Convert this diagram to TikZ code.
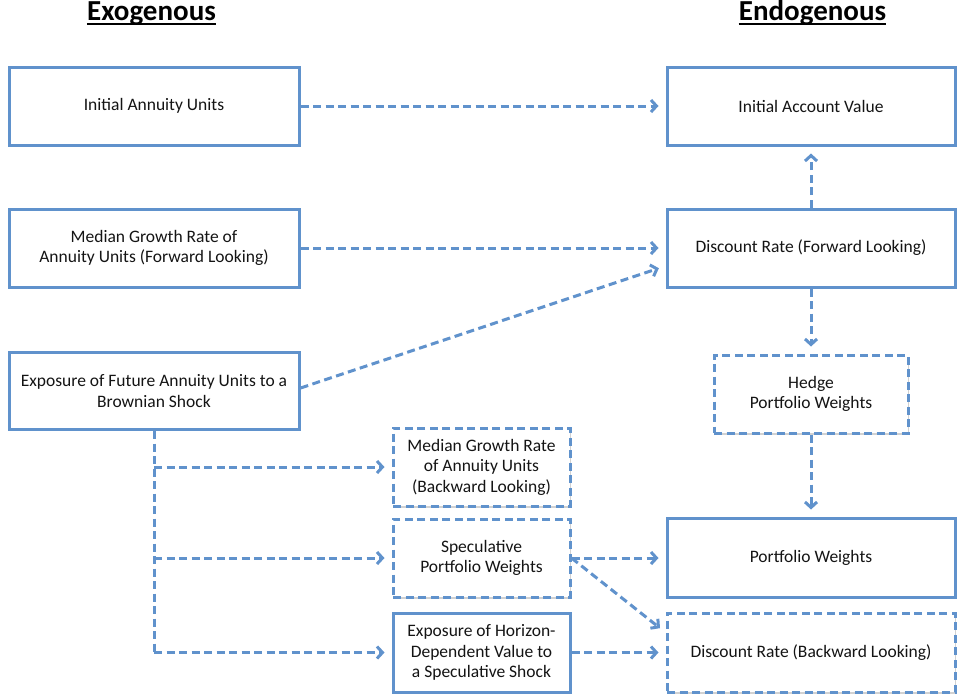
\documentclass[tikz,border=0pt]{standalone}
\usepackage{fontspec}
\setmainfont{Carlito}
\usetikzlibrary{arrows.meta,shadows,calc}
\definecolor{lineblue}{RGB}{96,146,204}
\definecolor{txt}{RGB}{20,20,20}
\tikzset{
  box/.style={draw=lineblue, line width=3pt, fill=white, rectangle, align=center,
    font=\fontsize{17.5}{20.5}\selectfont, text=txt, inner sep=0pt,
    general shadow={fill=black, opacity=0.18, shadow xshift=1.2pt, shadow yshift=-1.8pt}},
  dbox/.style={box, dash pattern=on 8pt off 4.5pt},
  conn/.style={draw=lineblue, line width=3pt, dash pattern=on 8pt off 4.5pt,
    -{Straight Barb[length=5.5pt,width=12pt]}, shorten >=7pt},
  plain/.style={draw=lineblue, line width=3pt, dash pattern=on 8pt off 4.5pt},
  heading/.style={font=\fontsize{29}{32}\selectfont\bfseries, text=black, inner sep=0pt, anchor=base},
  uline/.style={draw=black, line width=2pt}
}
\begin{document}
\begin{tikzpicture}[x=1pt,y=-1pt]
\useasboundingbox (0,0) rectangle (957,697);
% headings
\node[heading] (hex) at (151.5,20) {Exogenous};
\node[heading] (hen) at (812.5,20) {Endogenous};
\draw[uline] ([yshift=-3.5pt]hex.base west) -- ([yshift=-3.5pt]hex.base east);
\draw[uline] ([yshift=-3.5pt]hen.base west) -- ([yshift=-3.5pt]hen.base east);
% exogenous boxes
\node[box, minimum width=290pt, minimum height=78pt] (iau) at (154,106) {Initial Annuity Units};
\node[box, minimum width=290pt, minimum height=78pt] (mgf) at (154,248) {Median Growth Rate of\\Annuity Units (Forward Looking)};
\node[box, minimum width=290pt, minimum height=77pt] (efu) at (154,391) {Exposure of Future Annuity Units to a\\Brownian Shock};
% middle boxes
\node[dbox, minimum width=177pt, minimum height=78pt] (mgb) at (481.5,467) {Median Growth Rate\\of Annuity Units\\(Backward Looking)};
\node[dbox, minimum width=177pt, minimum height=78pt] (spw) at (481.5,558) {Speculative\\Portfolio Weights};
\node[box, minimum width=177pt, minimum height=79pt] (ehd) at (481.5,652.5) {Exposure of Horizon-\\Dependent Value to\\a Speculative Shock};
% endogenous boxes
\node[box, minimum width=288pt, minimum height=78pt] (iav) at (811,106) {Initial Account Value};
\node[box, minimum width=288pt, minimum height=78pt] (drf) at (811,248) {Discount Rate (Forward Looking)};
\node[dbox, minimum width=194pt, minimum height=78pt] (hed) at (811,394) {Hedge\\Portfolio Weights};
\node[box, minimum width=288pt, minimum height=79pt] (pw) at (811,557.5) {Portfolio Weights};
\node[dbox, minimum width=288pt, minimum height=79pt] (drb) at (811,652.5) {Discount Rate (Backward Looking)};
% connectors
\draw[conn] (iau.east) -- (iav.west);
\draw[conn] (mgf.east) -- (mgf.east -| drf.west);
\draw[conn] ([yshift=3pt]efu.east) -- ([yshift=-18pt]drf.west);
\draw[conn] (drf.north) -- (iav.south);
\draw[conn] (drf.south) -- (hed.north);
\draw[conn] (hed.south) -- (pw.north);
\draw[plain] (efu.south) -- (efu.south |- ehd.west);
\draw[conn] (efu.south |- mgb.west) -- (mgb.west);
\draw[conn] (efu.south |- spw.west) -- (spw.west);
\draw[conn] (efu.south |- ehd.west) -- (ehd.west);
\draw[conn] (spw.east) -- (spw.east -| pw.west);
\draw[conn] (spw.east) -- ([yshift=20pt]drb.west);
\draw[conn] (ehd.east) -- (drb.west);
\end{tikzpicture}
\end{document}
